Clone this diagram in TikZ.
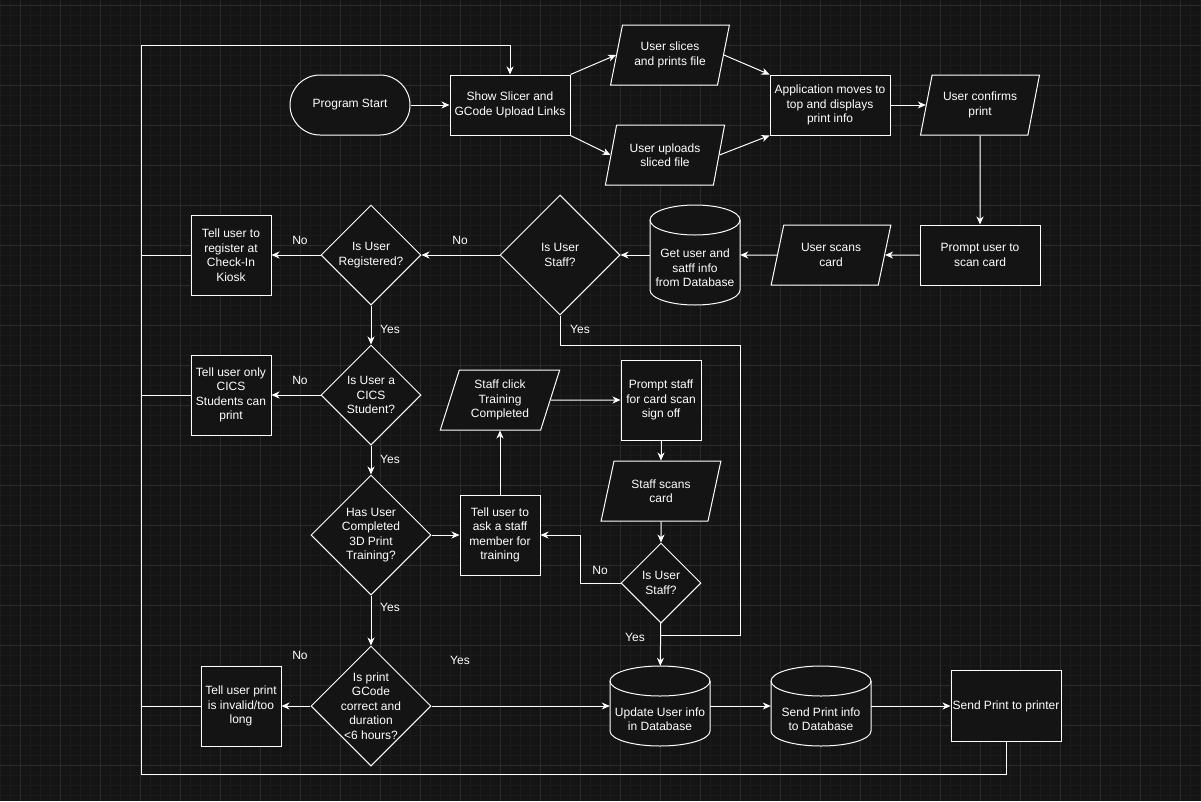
\documentclass[tikz,border=0pt]{standalone}
\usepackage{fontspec}
\setmainfont{Liberation Sans}
\usetikzlibrary{positioning, arrows.meta, shapes.geometric, calc}

\definecolor{canvas}{HTML}{141414}
\definecolor{gridminor}{HTML}{1B1B1B}
\definecolor{gridmajor}{HTML}{2B2B2B}

% database drum: centre, half width, half height, cap radius
\newcommand{\drawdb}[4]{%
  \draw[wire, fill=canvas] ($(#1)+(-#2,-#3+#4)$) -- ($(#1)+(-#2,#3-#4)$)
    arc[start angle=180, end angle=360, x radius=#2pt, y radius=#4pt]
    -- ($(#1)+(#2,-#3+#4)$)
    arc[start angle=0, end angle=180, x radius=#2pt, y radius=#4pt] -- cycle;
  \draw[wire] ($(#1)+(-#2,-#3+#4)$)
    arc[start angle=180, end angle=360, x radius=#2pt, y radius=#4pt];
}

\begin{document}
\begin{tikzpicture}[
    x=1pt, y=-1pt,
    >={Stealth[length=8pt, width=7pt, inset=2.5pt]},
    every node/.style = {font=\fontsize{12}{14.5}\selectfont, text=white, align=center},
    proc/.style       = {rectangle, draw=white, line width=1pt, fill=canvas,
                         minimum width=80, minimum height=80, inner sep=1pt},
    terminal/.style   = {proc, rounded corners=30, minimum width=120, minimum height=60},
    io/.style         = {trapezium, trapezium left angle=71.6, trapezium right angle=108.4,
                         trapezium stretches=true, draw=white, line width=1pt, fill=canvas,
                         minimum width=120, minimum height=60, inner sep=1pt},
    decision/.style   = {diamond, draw=white, line width=1pt, fill=canvas, inner sep=0pt},
    dbbox/.style      = {rectangle, draw=none, inner sep=0pt},
    line/.style       = {->, draw=white, line width=1pt},
    wire/.style       = {draw=white, line width=1pt}
]
\useasboundingbox (0,0) rectangle (1201,801);

% Background grid
\fill[canvas] (0,0) rectangle (1201,801);
\foreach \gx in {0,10,...,1200} \draw[gridminor, line width=0.6pt] (\gx,0) -- (\gx,801);
\foreach \gy in {5,15,...,795} \draw[gridminor, line width=0.6pt] (0,\gy) -- (1201,\gy);
\foreach \gx in {20,60,...,1180} \draw[gridmajor, line width=0.8pt] (\gx,0) -- (\gx,801);
\foreach \gy in {5,45,...,785} \draw[gridmajor, line width=0.8pt] (0,\gy) -- (1201,\gy);

% Upload row
\node[terminal] (start) at (350,105) {Program Start};
\node[proc, minimum width=120, minimum height=60] (slicer) at (510,105) {Show Slicer and\\GCode Upload Links};
\node[io] (slices) at (670,55)  {User slices\\and prints file};
\node[io] (upload) at (665,155) {User uploads\\sliced file};
\node[proc, minimum width=120, minimum height=60] (app) at (830,105) {Application moves to\\top and displays\\print info};
\node[io] (confirm) at (980,105) {User confirms\\print};

\draw[line] (start) -- (slicer);
\draw[line] (slicer.north east) -- (slices.left side);
\draw[line] (slicer.south east) -- (upload.left side);
\draw[line] (slices.right side) -- (app.north west);
\draw[line] (upload.right side) -- (app.south west);
\draw[line] (app) -- (confirm);

% Card scan row
\node[proc, minimum width=120, minimum height=60] (prompt) at (980,255) {Prompt user to\\scan card};
\node[io] (scan) at (831,255) {User scans\\card};
\drawdb{695,255}{45}{50}{15}
\node[dbbox, minimum width=90, minimum height=100,
      label={[yshift=-13pt]center:Get user and\\satff info\\from Database}] (getinfo) at (695,255) {};
\node[decision, minimum width=120, minimum height=120,
      label=center:{Is User\\Staff?}] (staff) at (560,255) {};
\node[decision, minimum width=100, minimum height=100,
      label=center:{Is User\\Registered?}] (reg) at (371,255) {};
\node[proc] (register) at (231,255) {Tell user to\\register at\\Check-In\\Kiosk};

\draw[line] (confirm) -- (prompt);
\draw[line] (prompt) -- (scan);
\draw[line] (scan) -- (getinfo);
\draw[line] (getinfo) -- (staff);
\draw[line] (staff) -- (reg);
\draw[line] (reg) -- (register);
\node (noStaff) at (460,240) {No};
\node (noReg)   at (300,240) {No};

% Student and training checks
\node[decision, minimum width=100, minimum height=100,
      label=center:{Is User a\\CICS\\Student?}] (cics) at (371,395) {};
\node[proc] (onlycics) at (231,395) {Tell user only\\CICS\\Students can\\print};
\node[decision, minimum width=120, minimum height=120,
      label=center:{Has User\\Completed\\3D Print\\Training?}] (train) at (371,535) {};
\node[proc] (ask) at (500,535) {Tell user to\\ask a staff\\member for\\training};
\node[io] (click) at (500,400) {Staff click\\Training\\Completed};
\node[proc] (promptstaff) at (661,400) {Prompt staff\\for card scan\\sign off};
\node[io] (staffscan) at (661,491) {Staff scans\\card};
\node[decision, minimum width=80, minimum height=80,
      label=center:{Is User\\Staff?}] (staff2) at (661,583) {};

\draw[line] (reg) -- (cics);
\draw[line] (cics) -- (onlycics);
\draw[line] (cics) -- (train);
\draw[line] (train) -- (ask);
\draw[line] (ask) -- (click);
\draw[line] (click) -- (promptstaff);
\draw[line] (promptstaff) -- (staffscan);
\draw[line] (staffscan) -- (staff2);
\draw[line] (staff2.west) -- ++(-40,0) |- (ask.east);
\node (yesReg)    at (390,329) {Yes};
\node (yesStaff)  at (580,329) {Yes};
\node (noCics)    at (300,380) {No};
\node (yesCics)   at (390,459) {Yes};
\node (noStaff2)  at (600,570) {No};
\node (yesStaff2) at (635,637) {Yes};

% Staff shortcut to user update
\coordinate (ybend) at (740,345);
\coordinate (yjoin) at (661,635);
\draw[wire] (staff.south) |- (ybend) |- (yjoin);

% Print checks and database
\node[decision, minimum width=120, minimum height=120,
      label=center:{Is print\\GCode\\correct and\\duration\\<6 hours?}] (gcode) at (371,706) {};
\node[proc] (invalid) at (241,706) {Tell user print\\is invalid/too\\long};
\drawdb{660,706}{50}{40}{15}
\node[dbbox, minimum width=100, minimum height=80,
      label={[yshift=-13pt]center:Update User info\\in Database}] (update) at (660,706) {};
\drawdb{821,706}{50}{40}{15}
\node[dbbox, minimum width=100, minimum height=80,
      label={[yshift=-13pt]center:Send Print info\\to Database}] (sendinfo) at (821,706) {};
\node[proc, minimum width=110, minimum height=71] (printer) at (1006,706) {Send Print to printer};

\draw[line] (train) -- (gcode);
\draw[line] (gcode) -- (invalid);
\draw[line] (gcode) -- (update);
\draw[line] (staff2) -- (update);
\draw[line] (update) -- (sendinfo);
\draw[line] (sendinfo) -- (printer);
\node (yesTrain) at (390,607) {Yes};
\node (noGcode)  at (300,655) {No};
\node (yesGcode) at (460,660) {Yes};

% Return loop
\coordinate (loopTL) at (141,45);
\coordinate (loopBL) at (141,774);
\draw[line] (printer.south) |- (loopBL) -- (loopTL) -| (slicer.north);
\draw[wire] (register) -- (register -| loopTL);
\draw[wire] (onlycics) -- (onlycics -| loopTL);
\draw[wire] (invalid) -- (invalid -| loopTL);

\end{tikzpicture}
\end{document}
